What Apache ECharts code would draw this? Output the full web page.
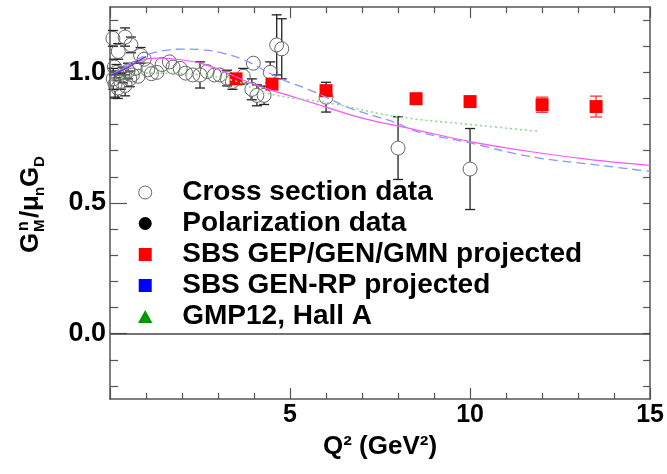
<!DOCTYPE html>
<html>
<head>
<meta charset="utf-8">
<script src="https://cdn.jsdelivr.net/npm/echarts@6/dist/echarts.min.js"></script>
<style>html,body{margin:0;padding:0;background:#fff}#c{width:667px;height:474px}</style>
</head>
<body>
<div id="c"></div>
<script>
// ---- data ----
const csQ2  = [0.08,0.42,0.58,0.23,0.85,0.95,0.12,0.18,0.09,0.14,0.22,0.30,0.35,0.42,0.50,0.55,0.62,0.70,0.78,1.05,1.15,1.30,1.45,1.65,1.75,1.95,2.10,2.30,2.50,2.70,2.90,3.05,3.25,3.40,3.70,3.98,3.94,4.08,4.28,4.45,4.63,4.77,6.00,8.00,10.00];
const csVal = [1.13,1.135,1.105,1.08,1.065,1.05,1.02,1.00,0.975,0.955,0.94,0.965,0.99,0.95,1.005,0.975,0.99,1.015,0.985,1.01,0.995,1.00,1.03,1.04,1.02,1.015,0.997,0.99,0.99,1.003,0.99,0.99,0.978,0.965,0.985,1.035,0.935,0.912,0.912,1.00,1.105,1.09,0.905,0.71,0.63];
const csErr = [0.03,0.035,0.03,0.03,0.03,0.025,0.03,0.03,0.04,0.05,0.04,0.03,0.03,0.04,0.03,0.03,0.02,0.025,0.02,0.02,0.02,0.02,0.025,0.02,0.02,0.02,0.02,0.02,0.05,0.02,0.02,0.02,0.03,0.03,0.03,0.025,0.04,0.04,0.035,0.04,0.115,0.115,0.057,0.12,0.155];

const sbsQ2  = [3.5,4.5,6.0,8.5,10.0,12.0,13.5];
const sbsVal = [0.975,0.955,0.93,0.899,0.888,0.876,0.869];
const sbsErr = [0.01,0.01,0.012,0.01,0.01,0.029,0.04];

const pinkQ2  = [0.05,0.5,0.85,1.3,1.85,2.5,3.15,3.8,4.45,5.0,6.0,7.0,8.5,10.0,11.65,13.4,15.0];
const pinkVal = [0.99,1.022,1.045,1.054,1.05,1.035,1.003,0.965,0.933,0.91,0.867,0.825,0.78,0.735,0.697,0.665,0.644];

const blueQ2  = [0.05,0.5,1.03,1.49,2.04,2.6,3.15,3.71,4.26,4.81,5.5,6.0,6.66,7.96,8.51,10.03,11.65,13.5,15.0];
const blueVal = [0.99,1.03,1.067,1.083,1.089,1.086,1.073,1.048,1.01,0.971,0.935,0.905,0.863,0.806,0.774,0.729,0.678,0.646,0.621];

const darkQ2  = [0.05,0.3,0.55,0.8,1.0];
const darkVal = [0.99,1.005,1.022,1.045,1.06];

const greenQ2  = [0.05,0.5,1.03,2.0,3.4,4.35,6.1,7.96,10.03,11.93];
const greenVal = [0.965,0.985,0.997,0.995,0.97,0.92,0.882,0.831,0.80,0.774];

const xTickLabels = [5,10,15];
const yTickLabels = [0.0,0.5,1.0];
const yMinorTicks = [-0.2,-0.1,0.1,0.2,0.3,0.4,0.6,0.7,0.8,0.9,1.1,1.2];
const yAllTicks   = [-0.2,-0.1,0,0.1,0.2,0.3,0.4,0.5,0.6,0.7,0.8,0.9,1.0,1.1,1.2];

const legendNames = ['Cross section data','Polarization data','SBS GEP/GEN/GMN projected','SBS GEN-RP projected','GMP12, Hall A'];

// ---- build ----
const FF = '"Liberation Sans", Arial, Helvetica, sans-serif';
const zip = (a,b,c) => a.map((v,i)=> c ? [v,b[i],c[i]] : [v,b[i]]);

function errRender(color, gap, cap){
  return function(params, api){
    const x = api.value(0), y = api.value(1), e = api.value(2);
    const c = api.coord([x,y]), t = api.coord([x,y+e]), b = api.coord([x,y-e]);
    const st = {stroke: color, lineWidth: 1.3};
    const ch = [];
    if (c[1]-gap > t[1]) {
      ch.push({type:'line', shape:{x1:c[0],y1:t[1],x2:c[0],y2:c[1]-gap}, style:st});
      ch.push({type:'line', shape:{x1:c[0]-cap,y1:t[1],x2:c[0]+cap,y2:t[1]}, style:st});
    }
    if (b[1] > c[1]+gap) {
      ch.push({type:'line', shape:{x1:c[0],y1:c[1]+gap,x2:c[0],y2:b[1]}, style:st});
      ch.push({type:'line', shape:{x1:c[0]-cap,y1:b[1],x2:c[0]+cap,y2:b[1]}, style:st});
    }
    return {type:'group', children: ch};
  };
}

const SQ = 'path://M0,0L10,0L10,10L0,10Z';
const TRI = 'path://M5,0L10,9L0,9Z';
const axisCol = '#555';
const chart = echarts.init(document.getElementById('c'), null, {renderer:'canvas'});
const option = {
  animation: false,
  backgroundColor: '#fff',
  grid: {left:110, right:16, top:7, bottom:75, containLabel:false},
  xAxis: [
    {type:'value', min:0, max:15, interval:5, position:'bottom',
     axisLine:{show:true, onZero:false, lineStyle:{color:axisCol, width:1.5}},
     axisTick:{show:true, inside:true, length:11, lineStyle:{color:axisCol, width:1.2}},
     minorTick:{show:true, splitNumber:5, length:6, lineStyle:{color:axisCol, width:1.2}},
     splitLine:{show:false}, minorSplitLine:{show:false},
     axisLabel:{show:true, showMinLabel:false, margin:4, fontSize:25, fontWeight:'bold', color:'#000', fontFamily:FF},
     name:'Q² (GeV²)', nameLocation:'middle', nameGap:35,
     nameTextStyle:{fontSize:26, fontWeight:'bold', color:'#000', fontFamily:FF}},
    {type:'value', min:0, max:15, interval:5, position:'top',
     axisLine:{show:true, onZero:false, lineStyle:{color:axisCol, width:1.5}},
     axisTick:{show:true, inside:true, length:11, lineStyle:{color:axisCol, width:1.2}},
     minorTick:{show:true, splitNumber:5, length:6, lineStyle:{color:axisCol, width:1.2}},
     splitLine:{show:false}, axisLabel:{show:false}}
  ],
  yAxis: [
    {type:'value', min:-0.25, max:1.25, position:'left',
     axisLine:{show:true, onZero:false, lineStyle:{color:axisCol, width:1.5}},
     axisTick:{show:true, inside:true, length:17, customValues:yTickLabels, lineStyle:{color:axisCol, width:1.2}},
     splitLine:{show:false},
     axisLabel:{show:true, customValues:yTickLabels, margin:4, fontSize:27, fontWeight:'bold', color:'#000', fontFamily:FF,
       formatter: v => Number(v).toFixed(1)}},
    {type:'value', min:-0.25, max:1.25, position:'left',
     axisLine:{show:false},
     axisTick:{show:true, inside:true, length:8, customValues:yMinorTicks, lineStyle:{color:axisCol, width:1.2}},
     splitLine:{show:false}, axisLabel:{show:false}},
    {type:'value', min:-0.25, max:1.25, position:'right',
     axisLine:{show:true, onZero:false, lineStyle:{color:axisCol, width:1.5}},
     axisTick:{show:true, inside:true, length:7, customValues:yAllTicks, lineStyle:{color:axisCol, width:1.2}},
     splitLine:{show:false}, axisLabel:{show:false}}
  ],
  legend: {
    orient:'vertical', left:133, top:172, itemWidth:64, itemHeight:13, itemGap:0,
    selectedMode:false, symbolKeepAspect:true,
    textStyle:{fontSize:28, fontWeight:'bold', color:'#000', fontFamily:FF, lineHeight:31},
    data:[
      {name:legendNames[0], icon:'circle', itemStyle:{color:'rgba(255,255,255,0)', borderColor:'#666', borderWidth:1, opacity:1}},
      {name:legendNames[1], icon:'circle', itemStyle:{color:'#000', borderWidth:0, opacity:1}},
      {name:legendNames[2], icon:SQ, itemStyle:{color:'#ff0000', borderWidth:0, opacity:1}},
      {name:legendNames[3], icon:SQ, itemStyle:{color:'#0000ff', borderWidth:0, opacity:1}},
      {name:legendNames[4], icon:TRI, itemStyle:{color:'#009900', borderWidth:0, opacity:1}}
    ]
  },
  graphic: [{
    type:'group', x:44, y:253, rotation: Math.PI/2,
    children:[
      {type:'text', x:0,  y:0,  style:{text:'G', font:'bold 26px '+FF, fill:'#000', textVerticalAlign:'bottom', verticalAlign:'bottom'}},
      {type:'text', x:22, y:-12, style:{text:'n', font:'bold 16px '+FF, fill:'#000', textVerticalAlign:'bottom', verticalAlign:'bottom'}},
      {type:'text', x:21, y:3,  style:{text:'M', font:'bold 15px '+FF, fill:'#000', textVerticalAlign:'bottom', verticalAlign:'bottom'}},
      {type:'text', x:35, y:0,  style:{text:'/', font:'bold 26px '+FF, fill:'#000', textVerticalAlign:'bottom', verticalAlign:'bottom'}},
      {type:'text', x:42, y:0,  style:{text:'μ', font:'bold 26px '+FF, fill:'#000', textVerticalAlign:'bottom', verticalAlign:'bottom'}},
      {type:'text', x:57, y:3,  style:{text:'n', font:'bold 15px '+FF, fill:'#000', textVerticalAlign:'bottom', verticalAlign:'bottom'}},
      {type:'text', x:66, y:0,  style:{text:'G', font:'bold 26px '+FF, fill:'#000', textVerticalAlign:'bottom', verticalAlign:'bottom'}},
      {type:'text', x:86, y:3,  style:{text:'D', font:'bold 15px '+FF, fill:'#000', textVerticalAlign:'bottom', verticalAlign:'bottom'}}
    ]
  }],
  series: [
    {name:'pink', type:'line', data:zip(pinkQ2,pinkVal), smooth:0.4, symbol:'none', silent:true,
     lineStyle:{color:'#ff55ff', width:1.2},
     markLine:{silent:true, symbol:['none','none'], label:{show:false},
       lineStyle:{color:'#444', width:1.5, type:'solid'}, data:[{yAxis:0}]}},
    {name:'blue', type:'line', data:zip(blueQ2,blueVal), smooth:0.4, symbol:'none', silent:true,
     lineStyle:{color:'#8a96ff', width:1.3, type:[9,5]}},
    {name:'dark', type:'line', data:zip(darkQ2,darkVal), smooth:0.4, symbol:'none', silent:true,
     lineStyle:{color:'#4a33c8', width:1.2}},
    {name:'green', type:'line', data:zip(greenQ2,greenVal), smooth:0.4, symbol:'none', silent:true,
     lineStyle:{color:'#8fd88f', width:1.6, type:[2,3]}},
    {name:legendNames[0], type:'scatter', data:zip(csQ2,csVal), symbol:'circle', symbolSize:14,
     itemStyle:{color:'rgba(255,255,255,0)', borderColor:'#666', borderWidth:1, opacity:1}},
    {name:'csErr', type:'custom', data:zip(csQ2,csVal,csErr), encode:{x:0,y:1},
     renderItem: errRender('#222', 7, 5)},
    {name:legendNames[1], type:'scatter', data:[], symbol:'circle', itemStyle:{color:'#000', opacity:1}},
    {name:legendNames[2], type:'scatter', data:zip(sbsQ2,sbsVal), symbol:'rect', symbolSize:13,
     itemStyle:{color:'#ff0000', opacity:1}},
    {name:'sbsErr', type:'custom', data:zip(sbsQ2,sbsVal,sbsErr), encode:{x:0,y:1},
     renderItem: errRender('#ff3333', 6.5, 6)},
    {name:legendNames[3], type:'scatter', data:[], symbol:'rect', itemStyle:{color:'#0000ff', opacity:1}},
    {name:legendNames[4], type:'scatter', data:[], symbol:'triangle', itemStyle:{color:'#009900', opacity:1}}
  ]
};
chart.setOption(option);
</script>
</body>
</html>
